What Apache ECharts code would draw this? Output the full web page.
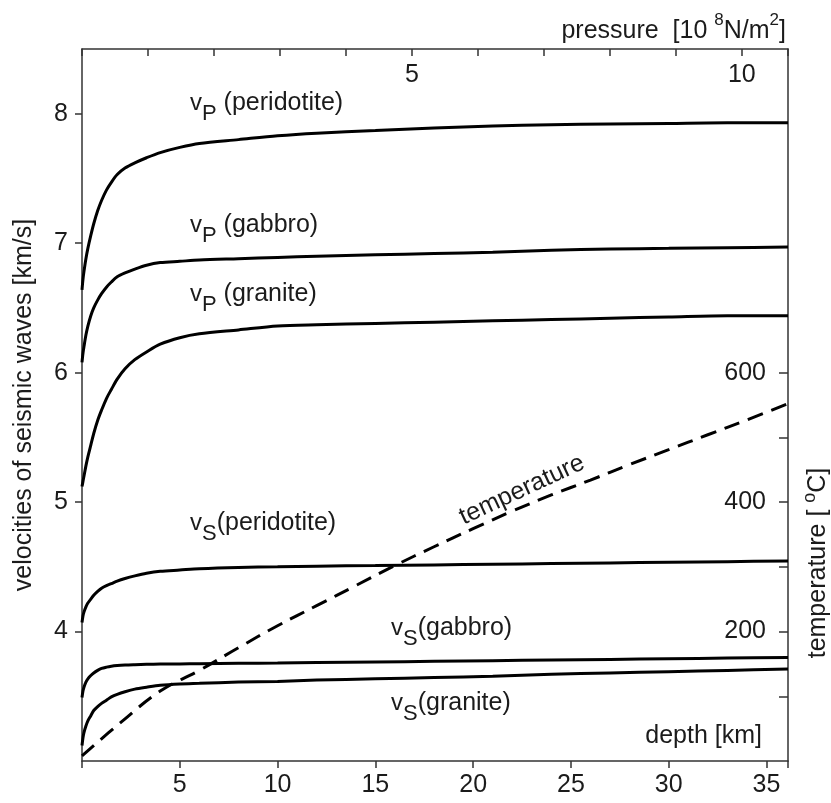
<!DOCTYPE html>
<html>
<head>
<meta charset="utf-8">
<script src="https://cdn.jsdelivr.net/npm/echarts@6/dist/echarts.min.js"></script>
<style>
  html, body { margin: 0; padding: 0; background: #ffffff; }
  #chart { width: 831px; height: 803px; }
</style>
</head>
<body>
<div id="chart"></div>
<script>
// Depth samples (km) shared by the six velocity curves
const depthKm = [0, 0.05, 0.1, 0.2, 0.3, 0.45, 0.6, 0.8, 1.0, 1.25, 1.5, 1.8, 2.2, 2.7, 3.3, 4, 5, 6, 8, 10, 12, 15, 18, 21, 24, 27, 30, 33, 36.1];

// Seismic velocities (km/s)
const vpPeridotite = [6.64, 6.72, 6.78, 6.88, 6.96, 7.06, 7.15, 7.25, 7.33, 7.41, 7.47, 7.53, 7.58, 7.62, 7.66, 7.70, 7.74, 7.77, 7.80, 7.83, 7.85, 7.87, 7.89, 7.905, 7.915, 7.92, 7.925, 7.93, 7.93];
const vpGabbro     = [6.08, 6.15, 6.20, 6.29, 6.36, 6.44, 6.50, 6.56, 6.61, 6.66, 6.70, 6.74, 6.77, 6.80, 6.83, 6.85, 6.86, 6.87, 6.88, 6.89, 6.90, 6.91, 6.92, 6.93, 6.945, 6.955, 6.96, 6.965, 6.97];
const vpGranite    = [5.12, 5.16, 5.20, 5.28, 5.35, 5.44, 5.53, 5.63, 5.71, 5.80, 5.87, 5.95, 6.03, 6.10, 6.16, 6.22, 6.27, 6.30, 6.33, 6.36, 6.37, 6.38, 6.39, 6.40, 6.41, 6.42, 6.43, 6.44, 6.44];
const vsPeridotite = [4.07, 4.12, 4.15, 4.19, 4.22, 4.25, 4.28, 4.31, 4.335, 4.355, 4.37, 4.39, 4.41, 4.43, 4.45, 4.465, 4.475, 4.485, 4.495, 4.50, 4.505, 4.51, 4.515, 4.52, 4.525, 4.53, 4.535, 4.54, 4.545];
const vsGabbro     = [3.49, 3.54, 3.57, 3.61, 3.635, 3.66, 3.68, 3.70, 3.715, 3.725, 3.732, 3.737, 3.741, 3.744, 3.747, 3.749, 3.75, 3.752, 3.755, 3.757, 3.76, 3.765, 3.77, 3.775, 3.78, 3.785, 3.79, 3.795, 3.80];
const vsGranite    = [3.12, 3.18, 3.22, 3.27, 3.31, 3.35, 3.39, 3.42, 3.445, 3.47, 3.495, 3.515, 3.535, 3.555, 3.57, 3.585, 3.595, 3.60, 3.61, 3.615, 3.625, 3.635, 3.645, 3.655, 3.67, 3.68, 3.69, 3.70, 3.71];

// Geotherm: temperature (°C) against depth (km)
const tempDepthKm  = [0, 2, 4, 6, 8, 10, 12, 14, 16, 18, 20, 22, 24, 26, 28, 30, 32, 34, 36.1];
const temperatureC = [8, 60, 108, 140, 175, 209, 240, 271, 302, 331, 359, 386, 411, 434, 458, 481, 504, 527, 552];

// Tick labels
const depthTickLabels       = [5, 10, 15, 20, 25, 30, 35];
const pressureTickLabels    = [5, 10];
const velocityTickLabels    = [4, 5, 6, 7, 8];
const temperatureTickLabels = [200, 400, 600];
const temperatureTicks      = [100, 200, 300, 400, 500, 600];

const FONT = "'Liberation Sans', Arial, Helvetica, sans-serif";
const INK = '#1b1b1b';
const AXIS = '#333333';

const pairs = (xs, ys) => xs.map((x, i) => [x, ys[i]]);

function solid(name, values) {
  return {
    name, type: 'line', xAxisIndex: 0, yAxisIndex: 0,
    data: pairs(depthKm, values),
    smooth: 0.3, showSymbol: false, silent: true,
    lineStyle: { color: '#000', width: 3 }
  };
}

// Curve annotation with a subscript wave-type letter
function curveLabel(x, y, sub, rest) {
  return {
    type: 'text', x, y, silent: true,
    style: {
      text: '{v|v}{s|' + sub + '}{t|' + rest + '}',
      verticalAlign: 'top',
      rich: {
        v: { fontFamily: FONT, fontSize: 24, fill: INK, verticalAlign: 'top', lineHeight: 34 },
        s: { fontFamily: FONT, fontSize: 22, fill: INK, verticalAlign: 'bottom', lineHeight: 34 },
        t: { fontFamily: FONT, fontSize: 25, fill: INK, verticalAlign: 'top', lineHeight: 34 }
      }
    }
  };
}

const chart = echarts.init(document.getElementById('chart'), null, { renderer: 'canvas' });

chart.setOption({
  backgroundColor: '#ffffff',
  animation: false,
  grid: { left: 82, right: 43, top: 49, bottom: 42 },
  xAxis: [
    {
      type: 'value', position: 'bottom', min: 0, max: 36.1, interval: 5,
      axisLine: { show: true, onZero: false, lineStyle: { color: AXIS, width: 1.5 } },
      axisTick: { show: true, length: 7, lineStyle: { color: AXIS, width: 1.5 } },
      axisLabel: { customValues: depthTickLabels, margin: 12, fontFamily: FONT, fontSize: 25, color: INK },
      splitLine: { show: false }
    },
    {
      type: 'value', position: 'top', min: 0, max: 10.7, interval: 1,
      axisLine: { show: true, onZero: false, lineStyle: { color: AXIS, width: 1.5 } },
      axisTick: { show: true, inside: true, length: 7, lineStyle: { color: AXIS, width: 1.5 } },
      axisLabel: { customValues: pressureTickLabels, inside: true, margin: 14, fontFamily: FONT, fontSize: 25, color: INK },
      splitLine: { show: false }
    }
  ],
  yAxis: [
    {
      type: 'value', position: 'left', min: 3, max: 8.5, interval: 1,
      axisLine: { show: true, onZero: false, lineStyle: { color: AXIS, width: 1.5 } },
      axisTick: { show: true, length: 7, customValues: velocityTickLabels, lineStyle: { color: AXIS, width: 1.5 } },
      axisLabel: { customValues: velocityTickLabels, margin: 14, fontFamily: FONT, fontSize: 25, color: INK },
      splitLine: { show: false }
    },
    {
      type: 'value', position: 'right', min: 0, max: 1100, interval: 100,
      axisLine: { show: true, onZero: false, lineStyle: { color: AXIS, width: 1.5 } },
      axisTick: { show: true, inside: true, length: 9, customValues: temperatureTicks, lineStyle: { color: AXIS, width: 1.5 } },
      axisLabel: { customValues: temperatureTickLabels, inside: true, margin: 22, fontFamily: FONT, fontSize: 25, color: INK },
      splitLine: { show: false }
    }
  ],
  series: [
    solid('vP peridotite', vpPeridotite),
    solid('vP gabbro', vpGabbro),
    solid('vP granite', vpGranite),
    solid('vS peridotite', vsPeridotite),
    solid('vS gabbro', vsGabbro),
    solid('vS granite', vsGranite),
    {
      name: 'temperature', type: 'line', xAxisIndex: 0, yAxisIndex: 1,
      data: pairs(tempDepthKm, temperatureC),
      smooth: 0.4, showSymbol: false, silent: true,
      lineStyle: { color: '#000', width: 3, type: [16, 9] }
    }
  ],
  graphic: [
    curveLabel(190, 91, 'P', ' (peridotite)'),
    curveLabel(190, 213, 'P', ' (gabbro)'),
    curveLabel(190, 282, 'P', ' (granite)'),
    curveLabel(190, 511, 'S', '(peridotite)'),
    curveLabel(391, 616, 'S', '(gabbro)'),
    curveLabel(391, 691, 'S', '(granite)'),
    {
      type: 'text', x: 762, y: 736, silent: true,
      style: { text: 'depth [km]', align: 'right', verticalAlign: 'middle', fontFamily: FONT, fontSize: 25, fill: INK }
    },
    {
      type: 'text', x: 522, y: 490, rotation: 0.435, silent: true,
      style: { text: 'temperature', align: 'center', verticalAlign: 'middle', fontFamily: FONT, fontSize: 25, fill: INK }
    },
    {
      type: 'text', x: 24, y: 405, rotation: Math.PI / 2, silent: true,
      style: { text: 'velocities of seismic waves [km/s]', align: 'center', verticalAlign: 'middle', fontFamily: FONT, fontSize: 25, fill: INK }
    },
    {
      type: 'text', x: 816, y: 563, rotation: Math.PI / 2, silent: true,
      style: {
        text: '{t|temperature [ }{o|o}{t|C]}',
        align: 'center', verticalAlign: 'middle',
        rich: {
          t: { fontFamily: FONT, fontSize: 25, fill: INK, verticalAlign: 'bottom', lineHeight: 30 },
          o: { fontFamily: FONT, fontSize: 18, fill: INK, verticalAlign: 'top', lineHeight: 30 }
        }
      }
    },
    {
      type: 'text', x: 786, y: 28, silent: true,
      style: {
        text: '{t|pressure  [10 }{u|8}{t|N/m}{u|2}{t|]}',
        align: 'right', verticalAlign: 'middle',
        rich: {
          t: { fontFamily: FONT, fontSize: 25, fill: INK, verticalAlign: 'bottom', lineHeight: 32 },
          u: { fontFamily: FONT, fontSize: 17, fill: INK, verticalAlign: 'top', lineHeight: 32 }
        }
      }
    }
  ]
});
</script>
</body>
</html>
